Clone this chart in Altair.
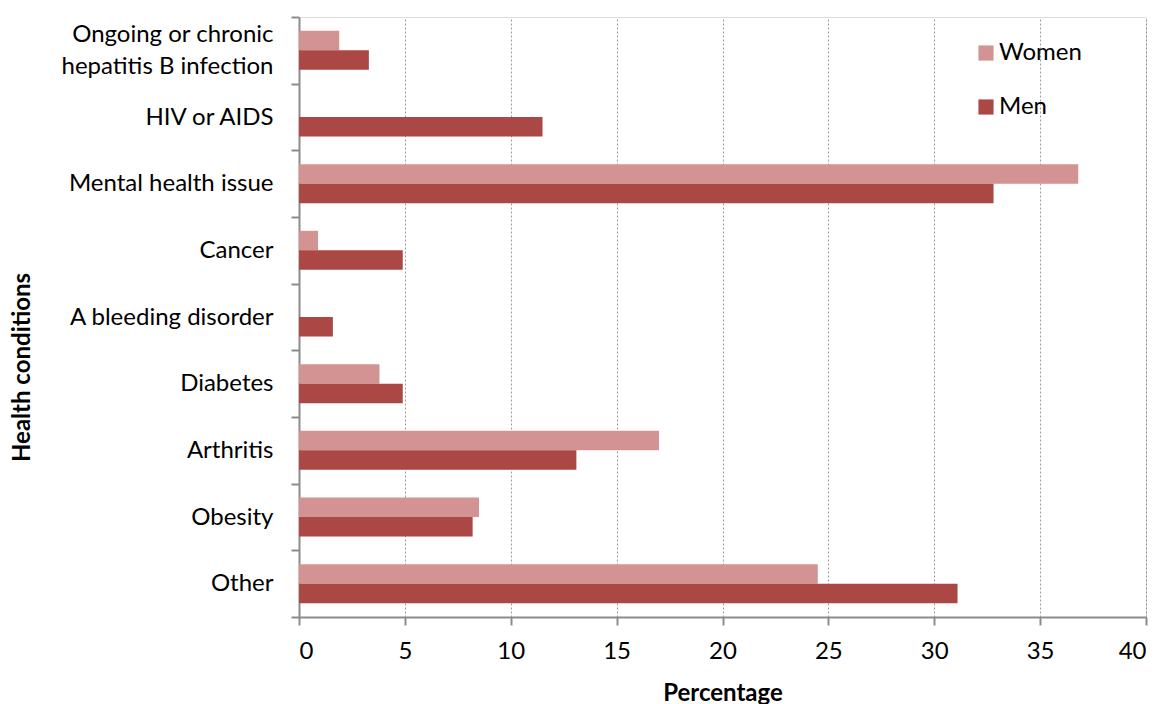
import altair as alt
import pandas as pd

categories = [
    "Ongoing or chronic hepatitis B infection",
    "HIV or AIDS",
    "Mental health issue",
    "Cancer",
    "A bleeding disorder",
    "Diabetes",
    "Arthritis",
    "Obesity",
    "Other",
]
women = [1.9, 0.0, 36.8, 0.9, 0.0, 3.8, 17.0, 8.5, 24.5]
men = [3.3, 11.5, 32.8, 4.9, 1.6, 4.9, 13.1, 8.2, 31.1]
series = ["Women", "Men"]
x_ticks = [0, 5, 10, 15, 20, 25, 30, 35, 40]

rows = []
for c, w, m in zip(categories, women, men):
    rows.append({"category": c, "sex": "Women", "value": w})
    rows.append({"category": c, "sex": "Men", "value": m})
df = pd.DataFrame(rows)

FONT = "Lato"
LONG = "Ongoing or chronic hepatitis B infection"
label_expr = ("datum.label == '" + LONG + "' ? "
              "['Ongoing or chronic', 'hepatitis B infection'] : datum.label")

chart = alt.Chart(df).mark_bar().encode(
    x=alt.X("value:Q",
            scale=alt.Scale(domain=[0, 40], nice=False, zero=True),
            axis=alt.Axis(values=x_ticks, title="Percentage", grid=True,
                          gridColor="#9a9a9a", gridDash=[2, 2], gridWidth=1,
                          domainColor="#8c8c8c", domainWidth=2,
                          tickColor="#8c8c8c", tickWidth=2, tickSize=8,
                          labelFontSize=24, labelFont=FONT, labelColor="#000",
                          labelPadding=14, titleFontSize=24, titleFont=FONT,
                          titleFontWeight="bold", titleColor="#000",
                          titlePadding=18)),
    y=alt.Y("category:N", sort=categories,
            scale=alt.Scale(paddingInner=0, paddingOuter=0),
            axis=alt.Axis(title="Health conditions", tickBand="extent",
                          domainColor="#8c8c8c", domainWidth=2,
                          tickColor="#8c8c8c", tickWidth=2, tickSize=8,
                          labelFontSize=24, labelFont=FONT, labelColor="#000",
                          labelPadding=18, labelExpr=label_expr,
                          labelLineHeight=32, labelLimit=400,
                          labelOffset={"condition": {"test": "datum.label == '" + LONG + "'",
                                                     "value": -16},
                                       "value": 0},
                          titleFontSize=24, titleFont=FONT,
                          titleFontWeight="bold", titleColor="#000",
                          titleX=-277, titleY=350, titleAngle=-90,
                          titleAlign="center", titleBaseline="middle")),
    yOffset=alt.YOffset("sex:N", sort=series,
                        scale=alt.Scale(paddingInner=0, paddingOuter=0.71)),
    color=alt.Color("sex:N", sort=series,
                    scale=alt.Scale(domain=series, range=["#D39392", "#AB4745"]),
                    legend=alt.Legend(title=None, orient="none", legendX=675,
                                      legendY=24, symbolType="square",
                                      symbolSize=230, symbolStrokeWidth=0,
                                      labelFontSize=24, labelFont=FONT,
                                      labelColor="#000", rowPadding=30,
                                      labelOffset=1)),
).properties(
    width=847, height=600,
    autosize=alt.AutoSizeParams(type="none"),
    padding={"left": 299, "top": 17, "right": 17, "bottom": 87},
).configure_view(stroke=None).configure(background="white")

chart.save("out.html", embed_options={"renderer": "svg", "actions": False})
